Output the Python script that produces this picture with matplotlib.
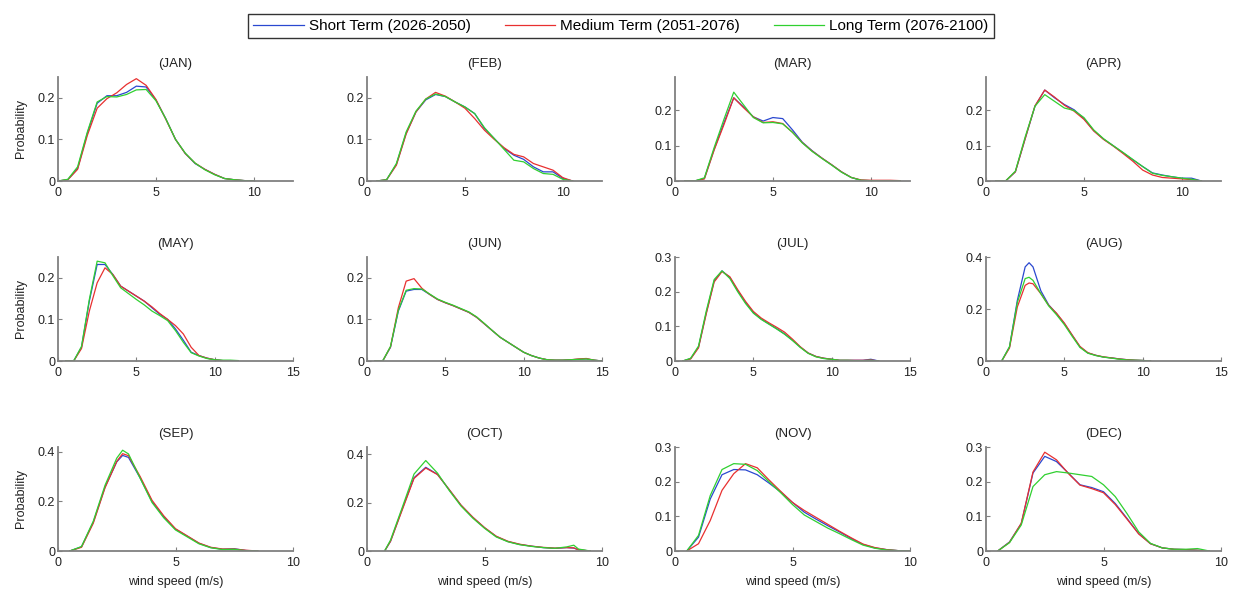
import numpy as np
import matplotlib.pyplot as plt
from matplotlib.ticker import FuncFormatter, MultipleLocator

plt.rcParams['font.family'] = ['Liberation Sans', 'DejaVu Sans']

months = ['JAN', 'FEB', 'MAR', 'APR', 'MAY', 'JUN',
          'JUL', 'AUG', 'SEP', 'OCT', 'NOV', 'DEC']
terms = ['Short Term (2026-2050)', 'Medium Term (2051-2076)', 'Long Term (2076-2100)']

# wind speed (m/s) and probability for each month, one list per term
jan_x = [0, 0.5, 1, 1.5, 2, 2.5, 3, 3.5, 4, 4.5, 5, 5.5, 6, 6.5, 7, 7.5, 8, 8.5, 9, 9.5, 10]
jan_short = [0, 0.003, 0.03, 0.115, 0.187, 0.205, 0.205, 0.213, 0.228, 0.226, 0.195, 0.15, 0.10, 0.066, 0.042, 0.028, 0.016, 0.006, 0.003, 0.001, 0]
jan_medium = [0, 0.003, 0.028, 0.11, 0.175, 0.198, 0.212, 0.232, 0.246, 0.23, 0.196, 0.149, 0.10, 0.066, 0.043, 0.028, 0.016, 0.006, 0.003, 0.001, 0]
jan_long = [0, 0.004, 0.034, 0.118, 0.19, 0.203, 0.202, 0.208, 0.219, 0.22, 0.193, 0.15, 0.10, 0.067, 0.043, 0.027, 0.015, 0.006, 0.003, 0.001, 0]

feb_x = [0.5, 1, 1.5, 2, 2.5, 3, 3.5, 4, 4.5, 5, 5.5, 6, 6.5, 7, 7.5, 8, 8.5, 9, 9.5, 10, 10.5]
feb_short = [0, 0.003, 0.04, 0.115, 0.166, 0.195, 0.208, 0.203, 0.19, 0.178, 0.162, 0.126, 0.102, 0.078, 0.062, 0.052, 0.034, 0.022, 0.022, 0.006, 0]
feb_medium = [0, 0.003, 0.038, 0.113, 0.166, 0.197, 0.213, 0.204, 0.19, 0.175, 0.15, 0.122, 0.10, 0.08, 0.064, 0.058, 0.042, 0.034, 0.026, 0.008, 0]
feb_long = [0, 0.003, 0.042, 0.118, 0.168, 0.197, 0.209, 0.203, 0.19, 0.178, 0.162, 0.128, 0.102, 0.076, 0.05, 0.046, 0.03, 0.018, 0.016, 0.004, 0]

mar_x = [0.5, 1, 1.5, 2, 2.5, 3, 3.5, 4, 4.5, 5, 5.5, 6, 6.5, 7, 7.5, 8, 8.5, 9, 9.5, 10, 10.5, 11, 11.5]
mar_short = [0, 0, 0.007, 0.09, 0.165, 0.236, 0.21, 0.182, 0.17, 0.18, 0.177, 0.145, 0.11, 0.086, 0.065, 0.046, 0.026, 0.01, 0.002, 0.001, 0, 0, 0]
mar_medium = [0, 0, 0.006, 0.088, 0.16, 0.236, 0.208, 0.182, 0.166, 0.168, 0.163, 0.138, 0.109, 0.085, 0.065, 0.046, 0.026, 0.01, 0.003, 0.002, 0.002, 0.002, 0.001]
mar_long = [0, 0, 0.009, 0.095, 0.175, 0.252, 0.216, 0.18, 0.165, 0.166, 0.162, 0.138, 0.108, 0.084, 0.064, 0.045, 0.025, 0.01, 0.002, 0.001, 0, 0, 0]

apr_x = [0.5, 1, 1.5, 2, 2.5, 3, 3.5, 4, 4.5, 5, 5.5, 6, 6.5, 7, 7.5, 8, 8.5, 9, 9.5, 10, 10.5, 11]
apr_short = [0, 0, 0.026, 0.12, 0.212, 0.258, 0.236, 0.217, 0.202, 0.177, 0.143, 0.119, 0.1, 0.08, 0.06, 0.041, 0.023, 0.017, 0.012, 0.008, 0.008, 0]
apr_medium = [0, 0, 0.026, 0.12, 0.213, 0.258, 0.238, 0.215, 0.198, 0.175, 0.142, 0.118, 0.099, 0.078, 0.056, 0.031, 0.017, 0.01, 0.008, 0.006, 0.004, 0]
apr_long = [0, 0, 0.028, 0.125, 0.212, 0.245, 0.226, 0.207, 0.2, 0.18, 0.145, 0.12, 0.1, 0.081, 0.061, 0.041, 0.022, 0.016, 0.012, 0.008, 0.005, 0]

may_x = [0.5, 1, 1.5, 2, 2.5, 3, 3.5, 4, 4.5, 5, 5.5, 6, 6.5, 7, 7.5, 8, 8.5, 9, 9.5, 10, 10.5, 11, 11.5]
may_short = [0, 0, 0.033, 0.144, 0.232, 0.232, 0.208, 0.18, 0.168, 0.156, 0.144, 0.128, 0.112, 0.1, 0.077, 0.05, 0.021, 0.013, 0.007, 0.003, 0.001, 0, 0]
may_medium = [0, 0, 0.03, 0.12, 0.188, 0.224, 0.208, 0.18, 0.168, 0.156, 0.144, 0.13, 0.114, 0.1, 0.085, 0.065, 0.033, 0.013, 0.007, 0.003, 0.001, 0, 0]
may_long = [0, 0, 0.035, 0.148, 0.24, 0.236, 0.205, 0.176, 0.162, 0.148, 0.135, 0.12, 0.109, 0.097, 0.073, 0.045, 0.02, 0.012, 0.006, 0.003, 0.002, 0.002, 0.001]

jun_x = [0.5, 1, 1.5, 2, 2.5, 3, 3.5, 4, 4.5, 5, 5.5, 6, 6.5, 7, 7.5, 8, 8.5, 9, 9.5, 10,
         10.5, 11, 11.5, 12, 12.5, 13, 13.5, 14, 14.5, 15]
jun_short = [0, 0, 0.033, 0.12, 0.168, 0.172, 0.172, 0.16, 0.148, 0.14, 0.133, 0.125, 0.117, 0.105, 0.089, 0.073, 0.057, 0.045, 0.033, 0.021,
             0.013, 0.007, 0.003, 0.002, 0.002, 0.003, 0.004, 0.005, 0.002, 0]
jun_medium = [0, 0, 0.034, 0.128, 0.192, 0.198, 0.175, 0.16, 0.148, 0.14, 0.133, 0.125, 0.117, 0.105, 0.089, 0.073, 0.057, 0.045, 0.033, 0.021,
              0.013, 0.007, 0.003, 0.002, 0.002, 0.003, 0.005, 0.006, 0.002, 0]
jun_long = [0, 0, 0.035, 0.122, 0.17, 0.174, 0.173, 0.161, 0.149, 0.141, 0.134, 0.126, 0.118, 0.106, 0.09, 0.073, 0.057, 0.045, 0.033, 0.021,
            0.013, 0.007, 0.003, 0.002, 0.002, 0.003, 0.004, 0.005, 0.002, 0]

jul_x = [0.5, 1, 1.5, 2, 2.5, 3, 3.5, 4, 4.5, 5, 5.5, 6, 6.5, 7, 7.5, 8, 8.5, 9, 9.5, 10,
         10.5, 11, 11.5, 12, 12.5, 13]
jul_short = [0, 0.007, 0.04, 0.14, 0.231, 0.26, 0.241, 0.203, 0.169, 0.14, 0.121, 0.107, 0.093, 0.078, 0.06, 0.04, 0.023, 0.013, 0.008, 0.005,
             0.002, 0.002, 0.002, 0.002, 0.005, 0]
jul_medium = [0, 0.006, 0.038, 0.137, 0.228, 0.258, 0.243, 0.206, 0.172, 0.143, 0.124, 0.11, 0.097, 0.083, 0.063, 0.041, 0.023, 0.013, 0.008, 0.005,
              0.002, 0.002, 0.002, 0.002, 0.003, 0]
jul_long = [0, 0.008, 0.043, 0.145, 0.235, 0.26, 0.238, 0.2, 0.166, 0.138, 0.12, 0.106, 0.092, 0.077, 0.059, 0.039, 0.022, 0.012, 0.007, 0.005,
            0.002, 0.002, 0.001, 0.001, 0.002, 0]

aug_x = [1, 1.5, 2, 2.5, 2.75, 3, 3.5, 4, 4.5, 5, 5.5, 6, 6.5, 7, 7.5, 8, 8.5, 9, 9.5, 10, 10.5]
aug_short = [0, 0.054, 0.233, 0.362, 0.378, 0.362, 0.27, 0.216, 0.182, 0.144, 0.099, 0.054, 0.031, 0.022, 0.015, 0.012, 0.008, 0.005, 0.003, 0.002, 0]
aug_medium = [0, 0.05, 0.208, 0.291, 0.30, 0.297, 0.259, 0.214, 0.184, 0.146, 0.10, 0.056, 0.032, 0.022, 0.016, 0.012, 0.008, 0.005, 0.003, 0.002, 0]
aug_long = [0, 0.055, 0.225, 0.317, 0.322, 0.31, 0.259, 0.212, 0.178, 0.14, 0.095, 0.052, 0.03, 0.021, 0.015, 0.011, 0.007, 0.004, 0.003, 0.002, 0]

sep_x = [0.5, 1, 1.5, 2, 2.5, 2.75, 3, 3.5, 4, 4.5, 5, 5.5, 6, 6.5, 7, 7.5, 8, 8.5]
sep_short = [0, 0.017, 0.116, 0.258, 0.36, 0.386, 0.378, 0.294, 0.2, 0.138, 0.088, 0.06, 0.031, 0.014, 0.007, 0.009, 0.002, 0]
sep_medium = [0, 0.015, 0.112, 0.255, 0.362, 0.393, 0.385, 0.30, 0.205, 0.142, 0.09, 0.061, 0.032, 0.015, 0.008, 0.008, 0.003, 0]
sep_long = [0, 0.018, 0.12, 0.265, 0.375, 0.407, 0.392, 0.293, 0.196, 0.134, 0.085, 0.057, 0.029, 0.013, 0.006, 0.007, 0.001, 0]

oct_x = [0.75, 1, 1.5, 2, 2.5, 3, 3.5, 4, 4.5, 5, 5.5, 6, 6.5, 7, 7.5, 8, 8.5, 8.8, 9, 9.5]
oct_short = [0, 0.04, 0.174, 0.303, 0.346, 0.317, 0.253, 0.189, 0.139, 0.096, 0.06, 0.039, 0.027, 0.02, 0.014, 0.011, 0.014, 0.012, 0.005, 0]
oct_medium = [0, 0.04, 0.17, 0.3, 0.343, 0.316, 0.254, 0.19, 0.14, 0.097, 0.061, 0.04, 0.028, 0.02, 0.015, 0.012, 0.014, 0.013, 0.005, 0]
oct_long = [0, 0.045, 0.18, 0.318, 0.374, 0.322, 0.25, 0.186, 0.136, 0.094, 0.058, 0.038, 0.026, 0.019, 0.014, 0.011, 0.017, 0.024, 0.008, 0]

nov_x = [0.5, 1, 1.5, 2, 2.5, 3, 3.5, 4, 4.5, 5, 5.5, 6, 6.5, 7, 7.5, 8, 8.5, 9, 9.5, 10]
nov_short = [0, 0.04, 0.15, 0.22, 0.235, 0.234, 0.22, 0.196, 0.17, 0.14, 0.112, 0.092, 0.073, 0.055, 0.036, 0.019, 0.009, 0.004, 0.001, 0]
nov_medium = [0, 0.021, 0.088, 0.175, 0.223, 0.252, 0.24, 0.205, 0.172, 0.14, 0.117, 0.097, 0.077, 0.057, 0.038, 0.02, 0.01, 0.004, 0.001, 0]
nov_long = [0, 0.045, 0.16, 0.235, 0.252, 0.25, 0.232, 0.2, 0.168, 0.134, 0.104, 0.085, 0.066, 0.05, 0.033, 0.017, 0.008, 0.003, 0.001, 0]

dec_x = [0.5, 1, 1.5, 2, 2.5, 3, 3.5, 4, 4.5, 5, 5.5, 6, 6.5, 7, 7.5, 8, 8.5, 9, 9.5]
dec_short = [0, 0.026, 0.079, 0.225, 0.273, 0.258, 0.225, 0.191, 0.183, 0.171, 0.137, 0.094, 0.05, 0.021, 0.009, 0.005, 0.004, 0.002, 0]
dec_medium = [0, 0.025, 0.08, 0.228, 0.285, 0.263, 0.224, 0.19, 0.18, 0.168, 0.134, 0.092, 0.049, 0.021, 0.009, 0.005, 0.004, 0.002, 0]
dec_long = [0, 0.024, 0.075, 0.186, 0.22, 0.229, 0.225, 0.22, 0.215, 0.191, 0.157, 0.108, 0.055, 0.022, 0.009, 0.005, 0.005, 0.007, 0]

panels = [
    (jan_x, jan_short, jan_medium, jan_long),
    (feb_x, feb_short, feb_medium, feb_long),
    (mar_x, mar_short, mar_medium, mar_long),
    (apr_x, apr_short, apr_medium, apr_long),
    (may_x, may_short, may_medium, may_long),
    (jun_x, jun_short, jun_medium, jun_long),
    (jul_x, jul_short, jul_medium, jul_long),
    (aug_x, aug_short, aug_medium, aug_long),
    (sep_x, sep_short, sep_medium, sep_long),
    (oct_x, oct_short, oct_medium, oct_long),
    (nov_x, nov_short, nov_medium, nov_long),
    (dec_x, dec_short, dec_medium, dec_long),
]

xmax = [12, 12, 12, 12, 15, 15, 15, 15, 10, 10, 10, 10]
ymax = [0.25, 0.25, 0.295, 0.295, 0.25, 0.25, 0.3, 0.4, 0.42, 0.43, 0.3, 0.3]
ystep = [0.1, 0.1, 0.1, 0.1, 0.1, 0.1, 0.1, 0.2, 0.2, 0.2, 0.1, 0.1]

colors = ['#2a48d0', '#e83030', '#30d030']
axis_gray = '#808080'

W, H = 1242, 592
fig = plt.figure(figsize=(W / 100, H / 100), dpi=100)

col_left = [58, 367, 675, 986]
row_bottom = [181, 361, 551]
ax_w, ax_h = 235, 104

fmt = FuncFormatter(lambda v, p: '%g' % round(v, 3))

for i, (x, s, m, l) in enumerate(panels):
    r, c = divmod(i, 4)
    ax = fig.add_axes([col_left[c] / W, (H - row_bottom[r]) / H, ax_w / W, ax_h / H])
    for y, col in zip((s, m, l), colors):
        ax.plot(x, y, color=col, lw=0.9)
    ax.set_xlim(0, xmax[i])
    ax.set_ylim(0, ymax[i])
    ax.xaxis.set_major_locator(MultipleLocator(5))
    ax.yaxis.set_major_locator(MultipleLocator(ystep[i]))
    ax.xaxis.set_major_formatter(fmt)
    ax.yaxis.set_major_formatter(fmt)
    for side in ('top', 'right'):
        ax.spines[side].set_visible(False)
    for side in ('left', 'bottom'):
        ax.spines[side].set_color(axis_gray)
        ax.spines[side].set_linewidth(1.3)
    ax.tick_params(direction='in', length=3, width=0.8, color=axis_gray,
                   labelsize=9, labelcolor='#222222', pad=2)
    ax.tick_params(axis='x', pad=4)
    ax.set_title('(%s)' % months[i], fontsize=9.5, pad=7, color='#222222')
    if c == 0:
        ax.set_ylabel('Probability', fontsize=9, labelpad=8, color='#222222')
    if r == 2:
        ax.set_xlabel('wind speed (m/s)', fontsize=9, labelpad=5, color='#222222')

handles = [plt.Line2D([], [], color=col, lw=0.9) for col in colors]
leg = fig.legend(handles, terms, loc='center', bbox_to_anchor=(0.5, 0.956), ncol=3,
                 fontsize=11, frameon=True, fancybox=False, edgecolor='#333333',
                 framealpha=1, handlelength=3.3, handletextpad=0.35,
                 columnspacing=2.2, borderpad=0.35)
leg.get_frame().set_linewidth(1.0)

fig.savefig('out.png', dpi=100)
